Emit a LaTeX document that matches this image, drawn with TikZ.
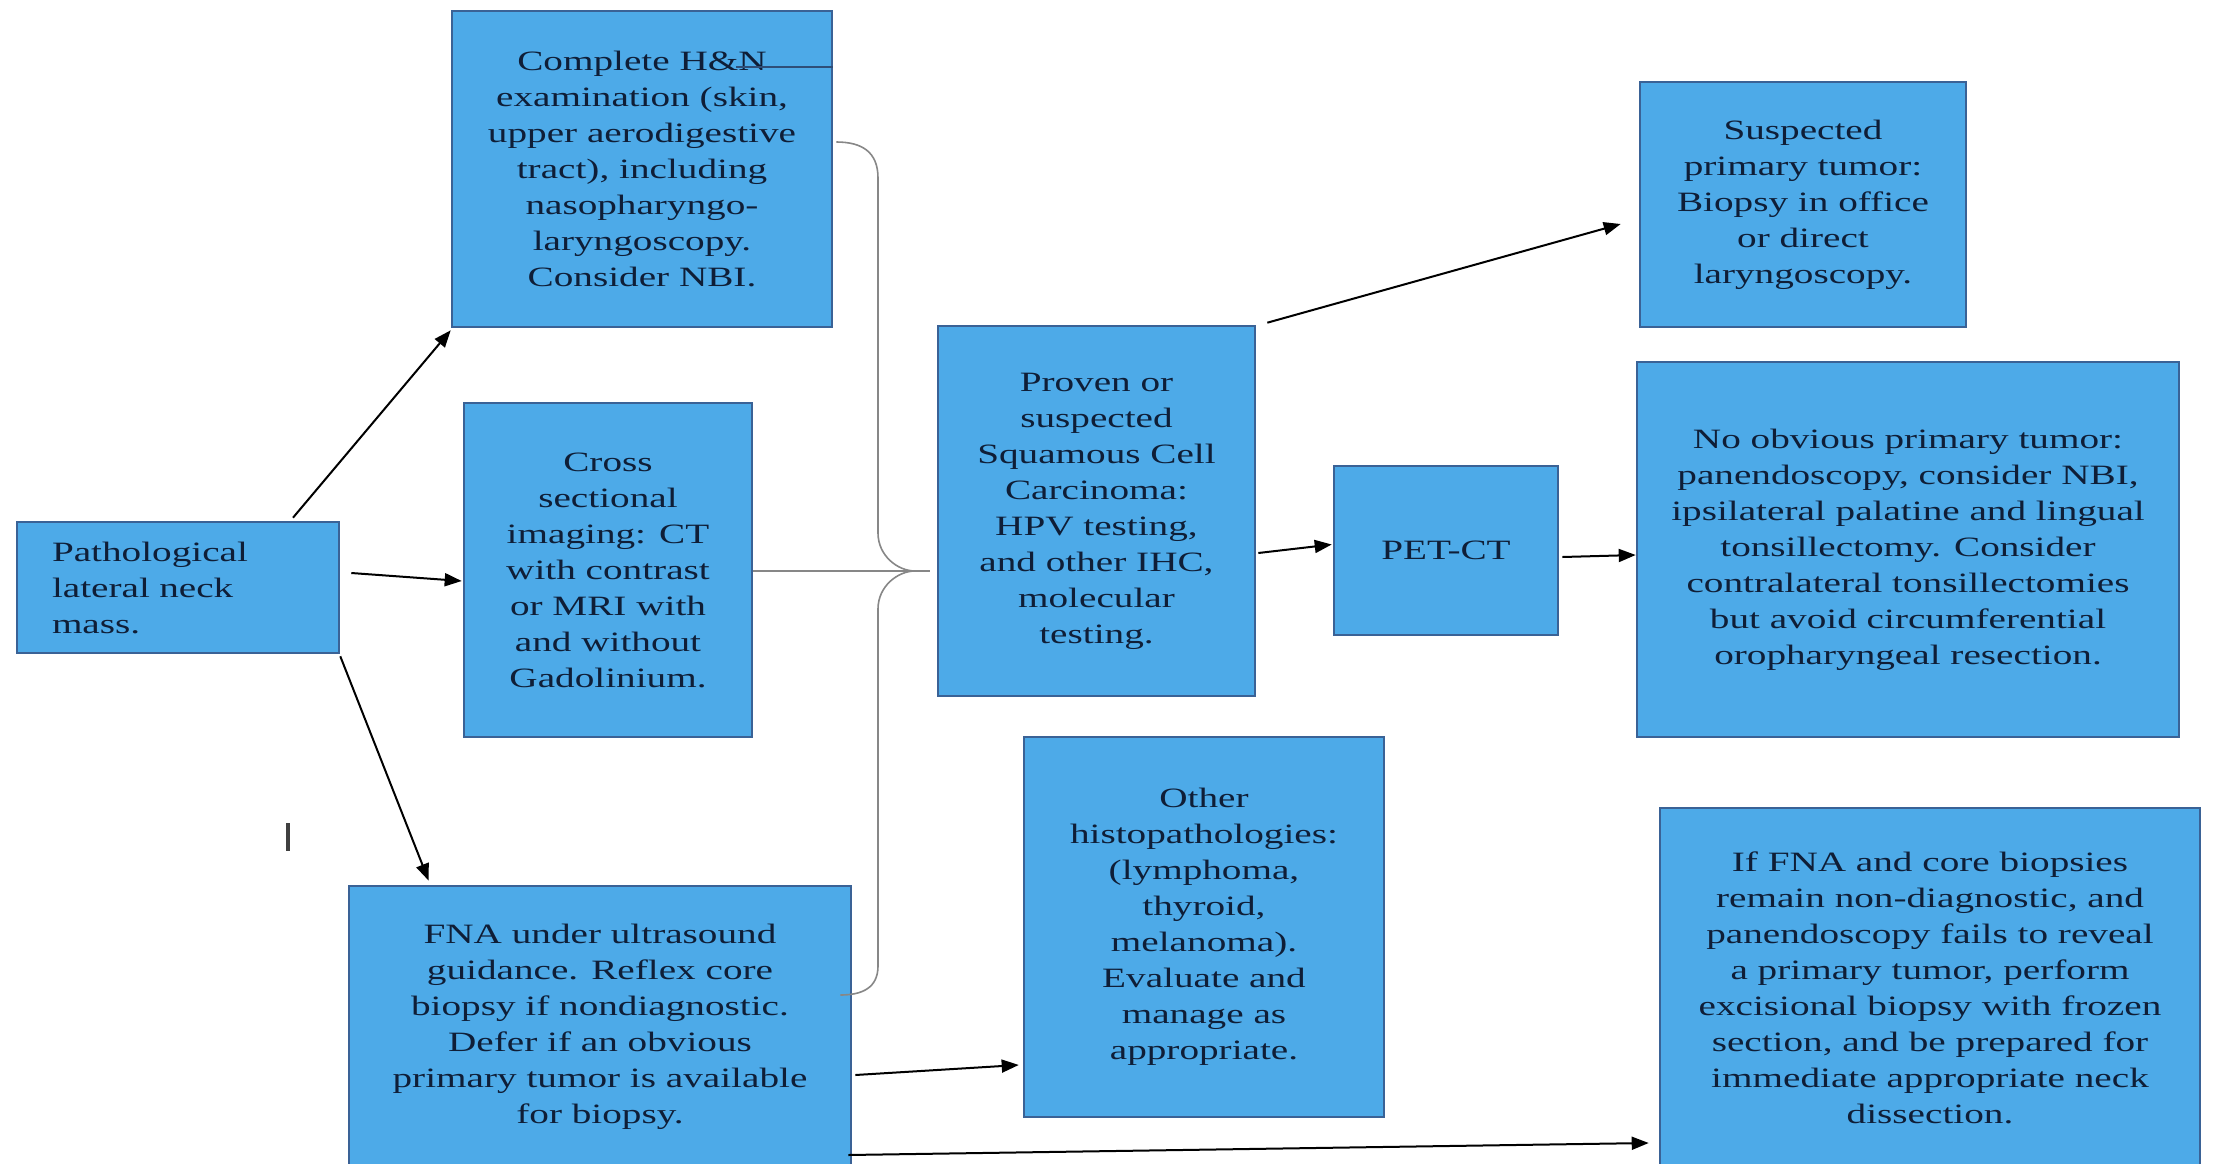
\documentclass[tikz,border=0pt]{standalone}
\usepackage{fontspec}
\setmainfont{Liberation Serif}[FakeStretch=1.4]
\usetikzlibrary{arrows.meta,calc}
\definecolor{boxfill}{RGB}{77,170,232}
\definecolor{boxedge}{RGB}{58,98,150}
\definecolor{boxtext}{RGB}{15,30,55}
\definecolor{bracecol}{RGB}{135,135,135}
\begin{document}
\begin{tikzpicture}[x=0.5pt,y=-0.5pt,
  box/.style={draw=boxedge, line width=1.3pt, fill=boxfill, text=boxtext,
    align=center, inner sep=0pt, font=\fontsize{14}{18}\selectfont},
  arr/.style={draw=black, line width=1pt, -{Triangle[length=8.5pt,width=6.5pt]}},
  bracelines/.style={draw=bracecol, line width=0.8pt}]
\useasboundingbox[fill=white] (0,0) rectangle (2213,1163);

\node[box, minimum height=65.5pt, inner xsep=17.5pt, text width=126pt, align=left] (path) at (178,587.5)
  {Pathological\\lateral neck\\mass.};
\node[box, minimum width=190pt, minimum height=158pt] (hn) at (642,169)
  {Complete H\&N\\examination (skin,\\upper aerodigestive\\tract), including\\nasopharyngo-\\laryngoscopy.\\Consider NBI.};
\node[box, minimum width=144pt, minimum height=167pt] (cross) at (608,570)
  {Cross\\sectional\\imaging: CT\\with contrast\\or MRI with\\and without\\Gadolinium.};
\node[box, minimum width=251pt, minimum height=141pt] (fna) at (600,1027)
  {FNA under ultrasound\\guidance. Reflex core\\biopsy if nondiagnostic.\\Defer if an obvious\\primary tumor is available\\for biopsy.};
\node[box, minimum width=158.5pt, minimum height=185pt] (proven) at (1096.5,511)
  {Proven or\\suspected\\Squamous Cell\\Carcinoma:\\HPV testing,\\and other IHC,\\molecular\\testing.};
\node[box, minimum width=112pt, minimum height=84.5pt] (pet) at (1446,550.5)
  {PET-CT};
\node[box, minimum width=163pt, minimum height=122.5pt] (susp) at (1803,204.5)
  {Suspected\\primary tumor:\\Biopsy in office\\or direct\\laryngoscopy.};
\node[box, minimum width=271pt, minimum height=187.5pt] (noobv) at (1908,549.5)
  {No obvious primary tumor:\\panendoscopy, consider NBI,\\ipsilateral palatine and lingual\\tonsillectomy. Consider\\contralateral tonsillectomies\\but avoid circumferential\\oropharyngeal resection.};
\node[box, minimum width=180pt, minimum height=190pt] (other) at (1204,927)
  {Other\\histopathologies:\\(lymphoma,\\thyroid,\\melanoma).\\Evaluate and\\manage as\\appropriate.};
\node[box, minimum width=270pt, minimum height=180pt] (iffna) at (1930,988)
  {If FNA and core biopsies\\remain non-diagnostic, and\\panendoscopy fails to reveal\\a primary tumor, perform\\excisional biopsy with frozen\\section, and be prepared for\\immediate appropriate neck\\dissection.};

% stray marks
\draw[draw=boxedge!80!black, line width=1pt] ($(hn.north east)+(-97,57)$) -- ($(hn.north east)+(0,57)$);
\draw[draw=black!75, line width=2pt] (288,823) -- (288,851);

% brace
\coordinate (tip) at (915,571);
\coordinate (lineend) at (930,571);
\draw[bracelines] ($(hn.east)+(3,-27)$) .. controls (862,142) and (878,152) .. (878,178)
  -- (878,533) .. controls (878,556) and (898,571) .. (tip)
  .. controls (898,571) and (878,586) .. (878,609)
  -- (878,966) .. controls (878,988) and (862,995) .. ($(fna.east)+(-12,-32)$);
\draw[bracelines] ($(cross.east)+(0,1)$) -- (lineend);

% arrows
\draw[arr] ($(path.north)+(115,-3)$) -- ($(hn.south west)+(0,2)$);
\draw[arr] ($(path.east)+(11,-14.5)$) -- ($(cross.west)+(-1,11)$);
\draw[arr] ($(path.south east)+(0,2)$) -- ($(fna.north west)+(81,-4)$);
\draw[arr] ($(proven.north east)+(11,-2)$) -- ($(susp.west)+(-18,19.5)$);
\draw[arr] ($(proven.east)+(2,42)$) -- ($(pet.west)+(-1,-6)$);
\draw[arr] ($(pet.east)+(3,6.5)$) -- ($(noobv.west)+(0,5.5)$);
\draw[arr] ($(fna.east)+(3,48)$) -- ($(other.west)+(-4,138)$);
\draw[arr] ($(fna.east)+(-4,128)$) -- ($(iffna.west)+(-10,155)$);
\end{tikzpicture}
\end{document}
